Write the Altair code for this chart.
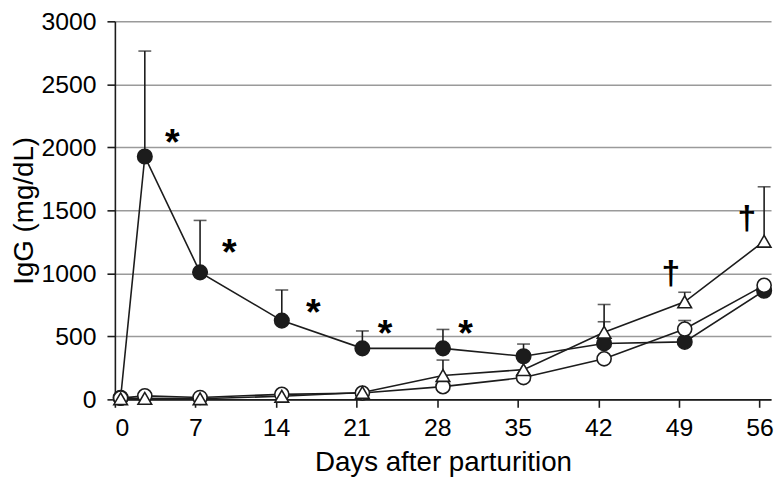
import altair as alt
import pandas as pd

days = [0.5, 2.6, 7.4, 14.5, 21.5, 28.5, 35.5, 42.5, 49.5, 56.4]

filled_vals = [13, 1927, 1008, 625, 405, 405, 342, 444, 456, 862]
filled_err = [None, 2764, 1420, 868, 543, 555, 439, 616, None, None]

open_vals = [10, 28, 15, 40, 50, 101, 173, 322, 558, 905]
open_err = [None, None, None, None, None, None, None, None, 626, None]

tri_vals = [5, 8, 5, 25, 55, 190, 236, 533, 774, 1255]
tri_err = [None, None, None, None, None, 312, None, 753, 850, 1687]

series_names = ["filled", "open", "triangle"]

star_days = [4.98, 9.95, 17.24, 23.48, 30.47]
star_vals = [2114, 1236, 760, 595, 595]
dagger_days = [48.3, 54.9]
dagger_vals = [987, 1420]

rows = []
for name, vals, errs in zip(series_names, [filled_vals, open_vals, tri_vals],
                            [filled_err, open_err, tri_err]):
    for d, v, e in zip(days, vals, errs):
        rows.append({"series": name, "day": d, "value": v, "err": e})
df = pd.DataFrame(rows)
err_df = df.dropna(subset=["err"])

stars = pd.DataFrame({"day": star_days, "value": star_vals, "label": ["*"] * len(star_days)})
daggers = pd.DataFrame({"day": dagger_days, "value": dagger_vals, "label": ["\u2020"] * len(dagger_days)})

DARK = "#1c1c1c"
FONT = "Liberation Sans"

x_enc = alt.X("day:Q",
              scale=alt.Scale(domain=[0, 57], nice=False, zero=False),
              axis=alt.Axis(values=[0, 7, 14, 21, 28, 35, 42, 49, 56], grid=False,
                            format="d", title="Days after parturition", tickSize=8,
                            labelPadding=9, titlePadding=8, titleFontSize=28))
y_enc = alt.Y("value:Q",
              scale=alt.Scale(domain=[0, 3000], nice=False),
              axis=alt.Axis(values=[0, 500, 1000, 1500, 2000, 2500, 3000], grid=True,
                            format="d", title="IgG (mg/dL)", tickSize=8,
                            labelPadding=11, titlePadding=3, titleFontSize=28))

base = alt.Chart(df)

lines = base.mark_line(color=DARK, strokeWidth=1.6).encode(
    x=x_enc, y=y_enc, detail="series:N")

stems = alt.Chart(err_df).mark_rule(color=DARK, strokeWidth=1.6).encode(
    x="day:Q", y="value:Q", y2="err:Q")

caps = alt.Chart(err_df).mark_tick(color=DARK, orient="horizontal", size=13,
                                   thickness=1.6).encode(
    x="day:Q", y="err:Q")

points = base.mark_point(filled=False, strokeWidth=1.6, opacity=1, stroke=DARK).encode(
    x="day:Q", y="value:Q",
    shape=alt.Shape("series:N", scale=alt.Scale(domain=series_names,
                    range=["circle", "circle", "triangle-up"]), legend=None),
    fill=alt.Fill("series:N", scale=alt.Scale(domain=series_names,
                  range=[DARK, "white", "white"]), legend=None),
    size=alt.Size("series:N", scale=alt.Scale(domain=series_names,
                  range=[215, 190, 170]), legend=None),
)

star_text = alt.Chart(stars).mark_text(font=FONT, fontSize=38, fontWeight="bold",
                                       color="black", baseline="alphabetic", dy=22).encode(
    x="day:Q", y="value:Q", text="label:N")

dagger_text = alt.Chart(daggers).mark_text(font=FONT, fontSize=34, fontWeight="bold",
                                           color="black", baseline="alphabetic", dy=9).encode(
    x="day:Q", y="value:Q", text="label:N")

chart = alt.layer(lines, stems, caps, points, star_text, dagger_text).properties(
    width=663, height=382,
    autosize=alt.AutoSizeParams(type="none"),
    padding={"left": 108, "top": 11, "right": 3, "bottom": 79},
).configure_view(strokeWidth=0).configure_axis(
    labelFont=FONT, titleFont=FONT, labelFontSize=25,
    titleFontWeight="normal", labelColor="black", titleColor="black",
    domainColor=DARK, tickColor=DARK, domainWidth=1.6, tickWidth=1.6,
    gridColor="#9a9a9a", gridWidth=1.5,
)

chart.save("out.html", embed_options={"renderer": "svg", "actions": False})
